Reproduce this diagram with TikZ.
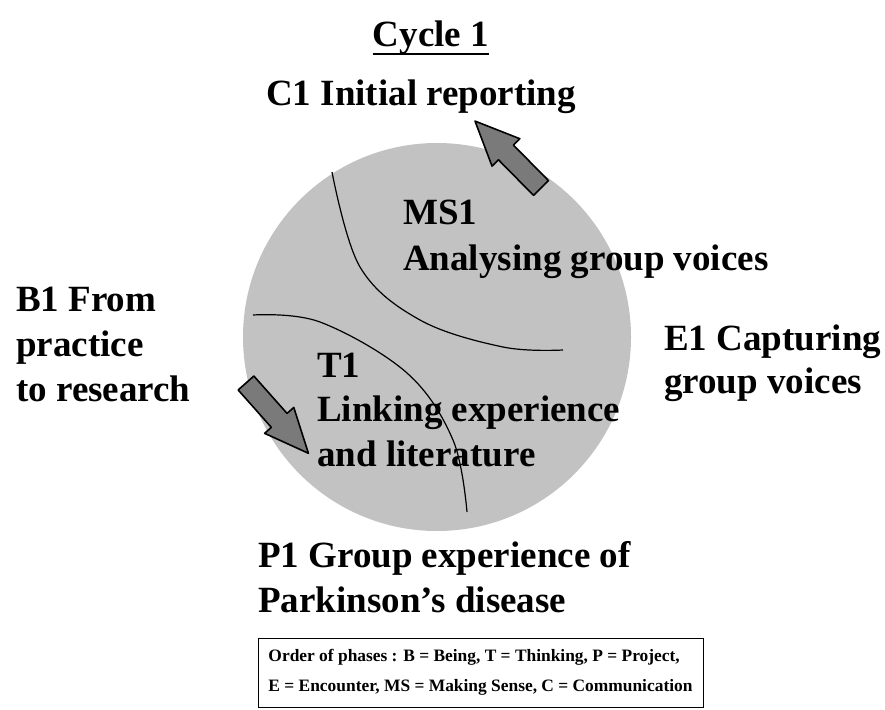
\documentclass[tikz,border=0pt]{standalone}
\usepackage{fontspec}
\setmainfont{Liberation Serif}
\usetikzlibrary{calc}
\tikzset{
  big/.style={font=\fontsize{37}{45}\selectfont\bfseries, inner sep=0pt, anchor=base west},
  legendtext/.style={font=\fontsize{17.4}{30}\selectfont\bfseries},
  disc/.style={circle, fill=black!24, draw=none, inner sep=0pt, minimum size=388pt},
  border/.style={draw=black, line width=1.2pt},
  arrowstyle/.style={draw=black, line width=1.6pt, fill=black!52, line join=round},
  blockarr/.pic={\draw[arrowstyle] (0,-10.5) -- (50,-10.5) -- (50,-19.5) -- (94,0) -- (50,19.5) -- (50,10.5) -- (0,10.5) -- cycle;}
}
\begin{document}
\begin{tikzpicture}[x=1pt, y=-1pt]
\useasboundingbox (0,0) rectangle (885,709);
% disc
\node[disc] (circ) at (437,337) {};
% dividing curves
\draw[border] plot[smooth, tension=0.6] coordinates {(332,172) (360,267) (420,320) (503,347) (563,350)};
\draw[border] plot[smooth, tension=0.6] coordinates {(253,315) (320,322) (407,373) (453,440) (467,512)};
% title
\node[big, anchor=base] (cyc) at (431,47) {Cycle 1};
\draw[line width=2.5pt] ($(cyc.base west)+(0,7)$) -- ($(cyc.base east)+(0,7)$);
\node[big] (c1) at (266,105) {C1 Initial reporting};
% MS1
\node[big] (ms1a) at (403,224) {MS1};
\node[big] (ms1b) at (403,270) {Analysing group voices};
% B1
\node[big] (b1a) at (16,311) {B1 From};
\node[big] (b1b) at (16,356) {practice};
\node[big] (b1c) at (16,401) {to research};
% E1
\node[big] (e1a) at (664,350) {E1 Capturing};
\node[big] (e1b) at (664,393) {group voices};
% T1
\node[big] (t1a) at (317,377) {T1};
\node[big] (t1b) at (317,421) {Linking experience};
\node[big] (t1c) at (317,466) {and literature};
% P1
\node[big] (p1a) at (258,567) {P1 Group experience of};
\node[big] (p1b) at (258,612) {Parkinson’s disease};
% arrows
\pic[rotate=134.6] at (541,188) {blockarr};
\pic[rotate=-48.4] at (246,383) {blockarr};
% legend
\node[draw=black, line width=1pt, minimum width=445pt, minimum height=69pt, inner sep=0pt, align=left, legendtext] (leg) at (480.5,672.5)
  {Order of phases : B = Being, T = Thinking, P = Project,\\E = Encounter, MS = Making Sense, C = Communication};
\end{tikzpicture}
\end{document}
